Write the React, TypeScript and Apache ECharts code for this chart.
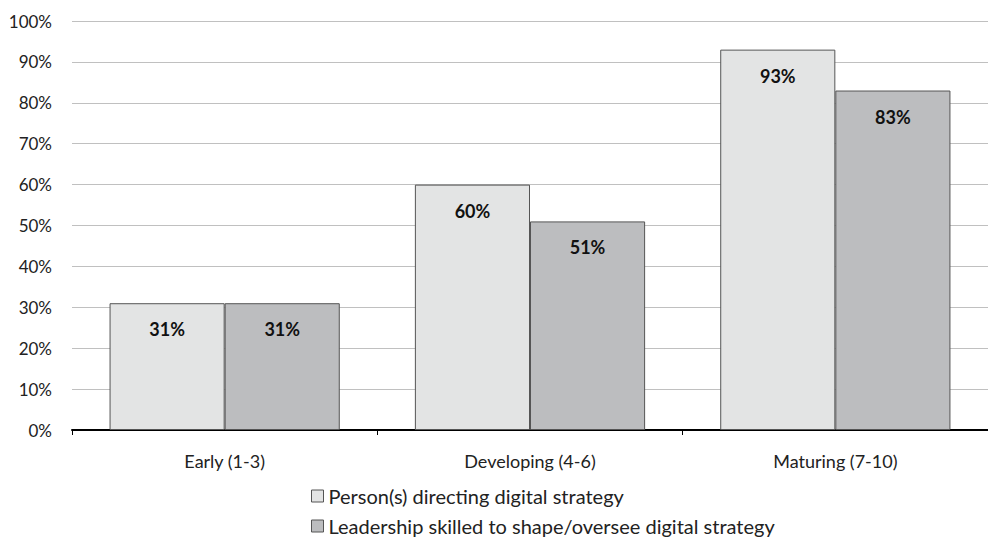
import React, { useEffect, useRef } from "react";
import * as echarts from "echarts";

const categories = ["Early (1-3)", "Developing (4-6)", "Maturing (7-10)"];
const seriesNames = [
  "Person(s) directing digital strategy",
  "Leadership skilled to shape/oversee digital strategy",
];
const personValues = [31, 60, 93];
const leadershipValues = [31, 51, 83];
const yTicks = [0, 10, 20, 30, 40, 50, 60, 70, 80, 90, 100];

const FONT = "Lato";

export default function App() {
  const ref = useRef<HTMLDivElement>(null);
  useEffect(() => {
    if (!ref.current) return;
    const chart = echarts.init(ref.current, null, { renderer: "svg" });
    const label = {
      show: true,
      position: "insideTop",
      distance: 17,
      formatter: (p: any) => `${p.value}%`,
      fontFamily: FONT,
      fontWeight: "bold",
      fontSize: 18,
      color: "#111",
    };
    chart.setOption({
      animation: false,
      backgroundColor: "#fff",
      grid: { left: 72, right: 0, top: 21, bottom: 112, containLabel: false },
      legend: {
        orient: "vertical",
        left: 311,
        top: 486,
        height: 56,
        padding: 0,
        itemWidth: 12,
        itemHeight: 12,
        itemGap: 10,
        icon: "rect",
        itemStyle: { borderColor: "#555", borderWidth: 1 },
        textStyle: { fontFamily: FONT, fontSize: 20, lineHeight: 20, color: "#222" },
        data: seriesNames,
      },
      xAxis: {
        type: "category",
        data: categories,
        axisLine: { show: true, lineStyle: { color: "#000", width: 2 } },
        axisTick: { show: true, length: 5, lineStyle: { color: "#000", width: 1 } },
        axisLabel: {
          fontFamily: FONT,
          fontSize: 18,
          color: "#222",
          margin: 22,
        },
      },
      yAxis: {
        type: "value",
        min: 0,
        max: 100,
        interval: 10,
        axisLine: { show: false },
        axisTick: { show: false },
        splitLine: { lineStyle: { color: "#c0c0c0", width: 1 } },
        axisLabel: {
          fontFamily: FONT,
          fontSize: 17,
          color: "#222",
          margin: 20,
          formatter: (v: number) => (yTicks.includes(v) ? `${v}%` : ""),
        },
      },
      series: [
        {
          name: seriesNames[0],
          type: "bar",
          data: personValues,
          barGap: "0%",
          barCategoryGap: "24.6%",
          itemStyle: { color: "#e3e4e4", borderColor: "#555", borderWidth: 1 },
          label,
        },
        {
          name: seriesNames[1],
          type: "bar",
          data: leadershipValues,
          barGap: "0%",
          barCategoryGap: "24.6%",
          itemStyle: { color: "#bcbdbf", borderColor: "#555", borderWidth: 1 },
          label,
        },
      ],
    });
    return () => chart.dispose();
  }, []);
  return (
    <div
      ref={ref}
      style={{ position: "fixed", left: 0, top: 0, width: 988, height: 542 }}
    />
  );
}
